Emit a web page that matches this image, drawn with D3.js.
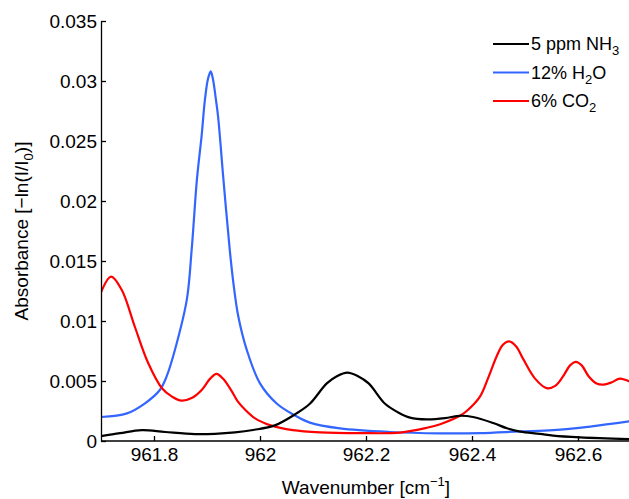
<!DOCTYPE html>
<html>
<head>
<meta charset="utf-8">
<script src="https://cdn.jsdelivr.net/npm/d3@7"></script>
<style>
body{margin:0;background:#fff;}
svg text{font-family:"Liberation Sans",Arial,Helvetica,sans-serif;fill:#000;}
.axis path,.axis line{stroke:#000;stroke-width:1.3;}
.axis text{font-size:19px;}
</style>
</head>
<body>
<svg id="chart"></svg>
<script>
// values
const nh3X=[961.700,961.736,961.777,961.821,961.877,961.915,961.953,961.987,962.028,962.069,962.094,962.126,962.145,962.165,962.185,962.205,962.236,962.260,962.283,962.315,962.349,962.377,962.402,962.440,962.466,962.491,962.528,962.553,962.604,962.700];
const nh3Y=[0.0004,0.00065,0.0009,0.00075,0.00058,0.0006,0.00072,0.00092,0.0013,0.0023,0.0031,0.0048,0.0054,0.0057,0.0054,0.0048,0.0031,0.0024,0.00195,0.0018,0.0019,0.0021,0.0020,0.0015,0.00106,0.00078,0.0006,0.00045,0.0003,0.00015];

const h2oX=[961.700,961.749,961.783,961.811,961.824,961.842,961.862,961.871,961.881,961.890,961.896,961.902,961.907,961.911,961.917,961.921,961.931,961.943,961.950,961.959,961.975,962.000,962.032,962.063,962.094,962.151,962.245,962.340,962.415,962.491,962.553,962.623,962.700];
const h2oY=[0.0020,0.0023,0.00314,0.00425,0.0054,0.0080,0.0118,0.0159,0.0218,0.0255,0.0284,0.0302,0.0308,0.0302,0.0284,0.0270,0.0218,0.0159,0.0131,0.0104,0.0076,0.0048,0.0031,0.0022,0.00153,0.00105,0.00075,0.00064,0.00066,0.0008,0.0009,0.0012,0.00165];

const co2X=[961.700,961.719,961.739,961.764,961.789,961.815,961.834,961.852,961.872,961.890,961.906,961.918,961.930,961.946,961.958,961.972,961.990,962.020,962.062,962.113,962.189,962.264,962.315,962.340,962.377,962.390,962.415,962.430,962.447,962.458,962.470,962.483,962.497,962.519,962.541,962.557,962.572,962.585,962.596,962.607,962.620,962.635,962.648,962.664,962.679,962.700];
const co2Y=[0.0124,0.0137,0.0126,0.0095,0.0065,0.0044,0.0037,0.00336,0.0036,0.00425,0.0052,0.0056,0.0052,0.0042,0.0033,0.0026,0.0019,0.0013,0.0009,0.00072,0.00066,0.0007,0.0011,0.0014,0.0021,0.0025,0.0037,0.0052,0.0071,0.0080,0.0083,0.0079,0.0068,0.0052,0.0044,0.0046,0.0054,0.0063,0.0066,0.0063,0.0054,0.0048,0.0047,0.0049,0.0052,0.0049];

const xTicks=[961.8,962,962.2,962.4,962.6];
const yTicks=[0,0.005,0.01,0.015,0.02,0.025,0.03,0.035];
const yTickLabels=["0","0.005","0.01","0.015","0.02","0.025","0.03","0.035"];

const w=629, h=499;
const plotLeft=101, plotRight=631, plotTop=21, plotBottom=441;

const svg=d3.select("#chart").attr("width",w).attr("height",h);

const xScale=d3.scaleLinear().domain([961.7,962.7]).range([plotLeft,plotRight]);
const yScale=d3.scaleLinear().domain([0,0.035]).range([plotBottom,plotTop]);

svg.append("defs").append("clipPath").attr("id","plot")
   .append("rect").attr("x",plotLeft).attr("y",plotTop-5).attr("width",plotRight-plotLeft).attr("height",plotBottom-plotTop+5);

const series=[
  {name:["5 ppm NH","3",""],xs:nh3X,ys:nh3Y,color:"#000000"},
  {name:["12% H","2","O"],xs:h2oX,ys:h2oY,color:"#3366ff"},
  {name:["6% CO","2",""],xs:co2X,ys:co2Y,color:"#ff0000"}
];

const line=d3.line()
  .x(d=>xScale(d[0]))
  .y(d=>yScale(d[1]))
  .curve(d3.curveCatmullRom.alpha(0.5));

// blue first so black/red sit on top like the reference
[series[1],series[2],series[0]].forEach(s=>{
  svg.append("path")
     .attr("clip-path","url(#plot)")
     .attr("d",line(d3.zip(s.xs,s.ys)))
     .attr("fill","none")
     .attr("stroke",s.color)
     .attr("stroke-width",2.2)
     .attr("stroke-linejoin","round");
});

const xAxis=d3.axisBottom(xScale).tickValues(xTicks).tickFormat(d3.format("")).tickSizeInner(-5).tickSizeOuter(0).tickPadding(7);
const yAxis=d3.axisLeft(yScale).tickValues(yTicks).tickFormat((d,i)=>yTickLabels[i]).tickSizeInner(-5).tickSizeOuter(0).tickPadding(4);

svg.append("g").attr("class","axis").attr("transform","translate(0,"+plotBottom+")").call(xAxis)
   .select(".domain").attr("d","M"+plotLeft+",0H"+w);
svg.append("g").attr("class","axis").attr("transform","translate("+plotLeft+",0)").call(yAxis);

// axis titles
const xl=svg.append("text").attr("x",(plotLeft+plotRight)/2).attr("y",494).attr("text-anchor","middle").style("font-size","19px");
xl.append("tspan").text("Wavenumber [cm");
xl.append("tspan").attr("dy",-8).style("font-size","13px").text("−1");
xl.append("tspan").attr("dy",8).text("]");

const yl=svg.append("text").attr("transform","translate(28,231) rotate(-90)").attr("text-anchor","middle").style("font-size","19px");
yl.append("tspan").text("Absorbance [−ln(I/I");
yl.append("tspan").attr("dy",5).style("font-size","13px").text("0");
yl.append("tspan").attr("dy",-5).text(")]");

// legend
const legend=svg.append("g").attr("transform","translate(493,44)");
series.forEach((s,i)=>{
  const g=legend.append("g").attr("transform","translate(0,"+(i*28.5)+")");
  g.append("line").attr("x1",0).attr("x2",36).attr("y1",0).attr("y2",0).attr("stroke",s.color).attr("stroke-width",2.2);
  const t=g.append("text").attr("x",38).attr("y",6).style("font-size","18px");
  t.append("tspan").text(s.name[0]);
  t.append("tspan").attr("dy",5).style("font-size","13px").text(s.name[1]);
  if(s.name[2]) t.append("tspan").attr("dy",-5).text(s.name[2]);
});
</script>
</body>
</html>
